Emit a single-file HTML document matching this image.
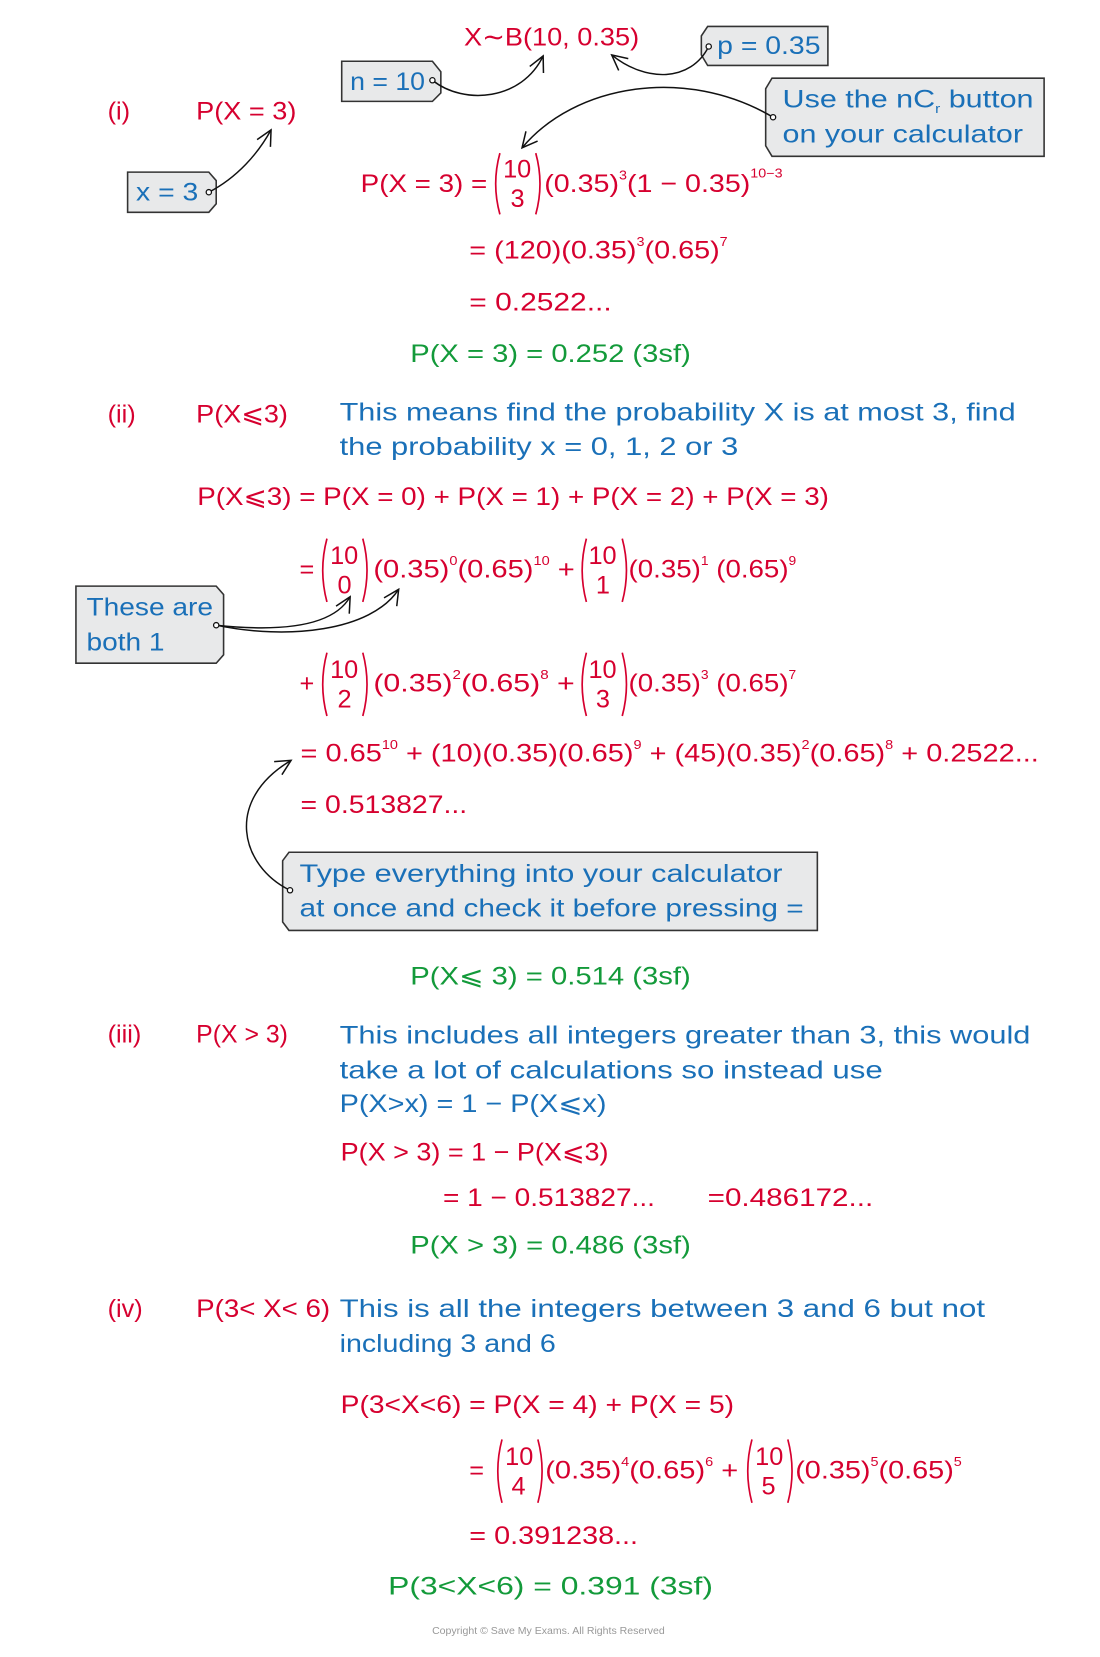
<!DOCTYPE html>
<html><head><meta charset="utf-8"><style>
html,body{margin:0;padding:0;background:#fff;}
svg{display:block;}
text{font-family:"Liberation Sans",sans-serif;font-size:24px;}
.r{fill:#d6002f;}.b{fill:#1a70b8;}.g{fill:#139a3a;}
.s{font-size:12px;}
.box{fill:#e8e9ea;stroke:#333;stroke-width:1.5;}
.ar{fill:none;stroke:#111;stroke-width:1.4;}
.pa{fill:none;stroke:#d6002f;stroke-width:1.6;}
</style></head><body>
<svg width="1100" height="1657" viewBox="0 0 1043 1569" preserveAspectRatio="none" xmlns="http://www.w3.org/2000/svg">
<defs><marker id="m" viewBox="0 0 20 20" refX="18" refY="10" markerWidth="18" markerHeight="18" markerUnits="userSpaceOnUse" orient="auto"><path d="M2,2 L18,10 L2,18" fill="none" stroke="#111" stroke-width="1.6"/></marker></defs>

<path class="box" d="M324,58 L410,58 L418,68 L418,88 L410,96 L324,96 Z"/>
<text class="b" x="332" y="85" textLength="71" lengthAdjust="spacingAndGlyphs">n = 10</text>
<path class="box" d="M671,25 L785,25 L785,62 L671,62 L665,52 L665,34 Z"/>
<text class="b" x="680" y="51" textLength="98" lengthAdjust="spacingAndGlyphs">p = 0.35</text>
<path class="box" d="M732,74 L990,74 L990,148 L732,148 L726,138 L726,84 Z"/>
<text class="b" x="742" y="102" textLength="238" lengthAdjust="spacingAndGlyphs">Use the nC<tspan class="s" dy="5">r</tspan><tspan dy="-5"> button</tspan></text>
<text class="b" x="742" y="135" textLength="228" lengthAdjust="spacingAndGlyphs">on your calculator</text>
<path class="box" d="M121,163 L198,163 L205,171 L205,193 L198,201 L121,201 Z"/>
<text class="b" x="129" y="190" textLength="59" lengthAdjust="spacingAndGlyphs">x = 3</text>
<path class="box" d="M72,555 L205,555 L212,563 L212,620 L205,628 L72,628 Z"/>
<text class="b" x="82" y="583" textLength="120" lengthAdjust="spacingAndGlyphs">These are</text>
<text class="b" x="82" y="616" textLength="74" lengthAdjust="spacingAndGlyphs">both 1</text>
<path class="box" d="M274,807 L775,807 L775,881 L274,881 L268,873 L268,815 Z"/>
<text class="b" x="284" y="835" textLength="458" lengthAdjust="spacingAndGlyphs">Type everything into your calculator</text>
<text class="b" x="284" y="868" textLength="478" lengthAdjust="spacingAndGlyphs">at once and check it before pressing =</text>

<path class="ar" marker-end="url(#m)" d="M410,76 C440,100 495,95 515,53"/>
<path class="ar" marker-end="url(#m)" d="M672,44 C655,78 612,78 580,52"/>
<path class="ar" marker-end="url(#m)" d="M733,111 C650,62 545,80 495,140"/>
<path class="ar" marker-end="url(#m)" d="M198,182 C225,168 245,145 257,123"/>
<path class="ar" marker-end="url(#m)" d="M205,592 C262,598 315,595 332,565"/>
<path class="ar" marker-end="url(#m)" d="M205,592 C272,606 352,598 378,558"/>
<path class="ar" marker-end="url(#m)" d="M275,843 C228,820 212,758 276,720"/>
<g fill="#fff" stroke="#111" stroke-width="1.2"><circle cx="410" cy="76" r="2.5"/><circle cx="672" cy="44" r="2.5"/><circle cx="733" cy="111" r="2.5"/><circle cx="198" cy="182" r="2.5"/><circle cx="205" cy="592" r="2.5"/><circle cx="275" cy="843" r="2.5"/></g>

<text class="r" x="440" y="43" textLength="166" lengthAdjust="spacingAndGlyphs">X∼B(10, 0.35)</text>

<text class="r" x="102" y="113">(i)</text>
<text class="r" x="186" y="113" textLength="95" lengthAdjust="spacingAndGlyphs">P(X = 3)</text>
<text class="r" x="342" y="182" textLength="120" lengthAdjust="spacingAndGlyphs">P(X = 3) =</text>
<path class="pa" d="M474,145 Q466,174 474,203 M508,145 Q516,174 508,203"/>
<text class="r" x="477" y="168">10</text><text class="r" x="484" y="196">3</text>
<text class="r" x="516" y="182" textLength="226" lengthAdjust="spacingAndGlyphs">(0.35)<tspan class="s" dy="-12">3</tspan><tspan dy="12">(1 − 0.35)</tspan><tspan class="s" dy="-14">10−3</tspan></text>
<text class="r" x="445" y="245" textLength="245" lengthAdjust="spacingAndGlyphs">= (120)(0.35)<tspan class="s" dy="-12">3</tspan><tspan dy="12">(0.65)</tspan><tspan class="s" dy="-12">7</tspan></text>
<text class="r" x="445" y="294" textLength="135" lengthAdjust="spacingAndGlyphs">= 0.2522...</text>
<text class="g" x="389" y="343" textLength="266" lengthAdjust="spacingAndGlyphs">P(X = 3) = 0.252 (3sf)</text>

<text class="r" x="102" y="400">(ii)</text>
<text class="r" x="186" y="400" textLength="87" lengthAdjust="spacingAndGlyphs">P(X⩽3)</text>
<text class="b" x="322" y="398" textLength="641" lengthAdjust="spacingAndGlyphs">This means find the probability X is at most 3, find</text>
<text class="b" x="322" y="431" textLength="378" lengthAdjust="spacingAndGlyphs">the probability x = 0, 1, 2 or 3</text>
<text class="r" x="187" y="478" textLength="599" lengthAdjust="spacingAndGlyphs">P(X⩽3) = P(X = 0) + P(X = 1) + P(X = 2) + P(X = 3)</text>

<text class="r" x="284" y="547">=</text>
<path class="pa" d="M310,510 Q302,540 310,570 M344,510 Q352,540 344,570"/>
<text class="r" x="313" y="534">10</text><text class="r" x="320" y="562">0</text>
<text class="r" x="354" y="547" textLength="191" lengthAdjust="spacingAndGlyphs">(0.35)<tspan class="s" dy="-12">0</tspan><tspan dy="12">(0.65)</tspan><tspan class="s" dy="-12">10</tspan><tspan dy="12"> +</tspan></text>
<path class="pa" d="M556,510 Q548,540 556,570 M590,510 Q598,540 590,570"/>
<text class="r" x="558" y="534">10</text><text class="r" x="565" y="562">1</text>
<text class="r" x="596" y="547" textLength="159" lengthAdjust="spacingAndGlyphs">(0.35)<tspan class="s" dy="-12">1</tspan><tspan dy="12"> (0.65)</tspan><tspan class="s" dy="-12">9</tspan></text>

<text class="r" x="284" y="655">+</text>
<path class="pa" d="M310,618 Q302,648 310,678 M344,618 Q352,648 344,678"/>
<text class="r" x="313" y="642">10</text><text class="r" x="320" y="670">2</text>
<text class="r" x="354" y="655" textLength="191" lengthAdjust="spacingAndGlyphs">(0.35)<tspan class="s" dy="-12">2</tspan><tspan dy="12">(0.65)</tspan><tspan class="s" dy="-12">8</tspan><tspan dy="12">  +</tspan></text>
<path class="pa" d="M556,618 Q548,648 556,678 M590,618 Q598,648 590,678"/>
<text class="r" x="558" y="642">10</text><text class="r" x="565" y="670">3</text>
<text class="r" x="596" y="655" textLength="159" lengthAdjust="spacingAndGlyphs">(0.35)<tspan class="s" dy="-12">3</tspan><tspan dy="12"> (0.65)</tspan><tspan class="s" dy="-12">7</tspan></text>

<text class="r" x="285" y="721" textLength="700" lengthAdjust="spacingAndGlyphs">= 0.65<tspan class="s" dy="-12">10</tspan><tspan dy="12"> + (10)(0.35)(0.65)</tspan><tspan class="s" dy="-12">9</tspan><tspan dy="12"> + (45)(0.35)</tspan><tspan class="s" dy="-12">2</tspan><tspan dy="12">(0.65)</tspan><tspan class="s" dy="-12">8</tspan><tspan dy="12">  + 0.2522...</tspan></text>
<text class="r" x="285" y="770" textLength="158" lengthAdjust="spacingAndGlyphs">= 0.513827...</text>
<text class="g" x="389" y="932" textLength="266" lengthAdjust="spacingAndGlyphs">P(X⩽ 3) = 0.514   (3sf)</text>

<text class="r" x="102" y="987">(iii)</text>
<text class="r" x="186" y="987" textLength="87" lengthAdjust="spacingAndGlyphs">P(X &gt; 3)</text>
<text class="b" x="322" y="988" textLength="655" lengthAdjust="spacingAndGlyphs">This includes all integers greater than 3, this would</text>
<text class="b" x="322" y="1021" textLength="515" lengthAdjust="spacingAndGlyphs">take a lot of calculations so instead use</text>
<text class="b" x="322" y="1053" textLength="253" lengthAdjust="spacingAndGlyphs">P(X&gt;x) = 1 − P(X⩽x)</text>
<text class="r" x="323" y="1099" textLength="254" lengthAdjust="spacingAndGlyphs">P(X &gt; 3) = 1 − P(X⩽3)</text>
<text class="r" x="420" y="1142" textLength="201" lengthAdjust="spacingAndGlyphs">= 1 − 0.513827...</text>
<text class="r" x="671" y="1142" textLength="157" lengthAdjust="spacingAndGlyphs">=0.486172...</text>
<text class="g" x="389" y="1187" textLength="266" lengthAdjust="spacingAndGlyphs">P(X &gt; 3) = 0.486   (3sf)</text>

<text class="r" x="102" y="1247">(iv)</text>
<text class="r" x="186" y="1247" textLength="127" lengthAdjust="spacingAndGlyphs">P(3&lt; X&lt; 6)</text>
<text class="b" x="322" y="1247" textLength="612" lengthAdjust="spacingAndGlyphs">This is all the integers between 3 and 6 but not</text>
<text class="b" x="322" y="1280" textLength="205" lengthAdjust="spacingAndGlyphs">including 3 and 6</text>
<text class="r" x="323" y="1338" textLength="373" lengthAdjust="spacingAndGlyphs">P(3&lt;X&lt;6) = P(X = 4) + P(X = 5)</text>
<text class="r" x="445" y="1400">=</text>
<path class="pa" d="M476,1363 Q468,1393 476,1423 M510,1363 Q518,1393 510,1423"/>
<text class="r" x="479" y="1387">10</text><text class="r" x="485" y="1415">4</text>
<text class="r" x="517" y="1400" textLength="183" lengthAdjust="spacingAndGlyphs">(0.35)<tspan class="s" dy="-12">4</tspan><tspan dy="12">(0.65)</tspan><tspan class="s" dy="-12">6</tspan><tspan dy="12"> +</tspan></text>
<path class="pa" d="M713,1363 Q705,1393 713,1423 M747,1363 Q755,1393 747,1423"/>
<text class="r" x="716" y="1387">10</text><text class="r" x="722" y="1415">5</text>
<text class="r" x="754" y="1400" textLength="158" lengthAdjust="spacingAndGlyphs">(0.35)<tspan class="s" dy="-12">5</tspan><tspan dy="12">(0.65)</tspan><tspan class="s" dy="-12">5</tspan></text>
<text class="r" x="445" y="1462" textLength="160" lengthAdjust="spacingAndGlyphs">= 0.391238...</text>
<text class="g" x="368" y="1510" textLength="308" lengthAdjust="spacingAndGlyphs">P(3&lt;X&lt;6) = 0.391     (3sf)</text>

<text x="520" y="1547" text-anchor="middle" style="font-size:10px;fill:#999">Copyright © Save My Exams. All Rights Reserved</text>
</svg>
</body></html>
